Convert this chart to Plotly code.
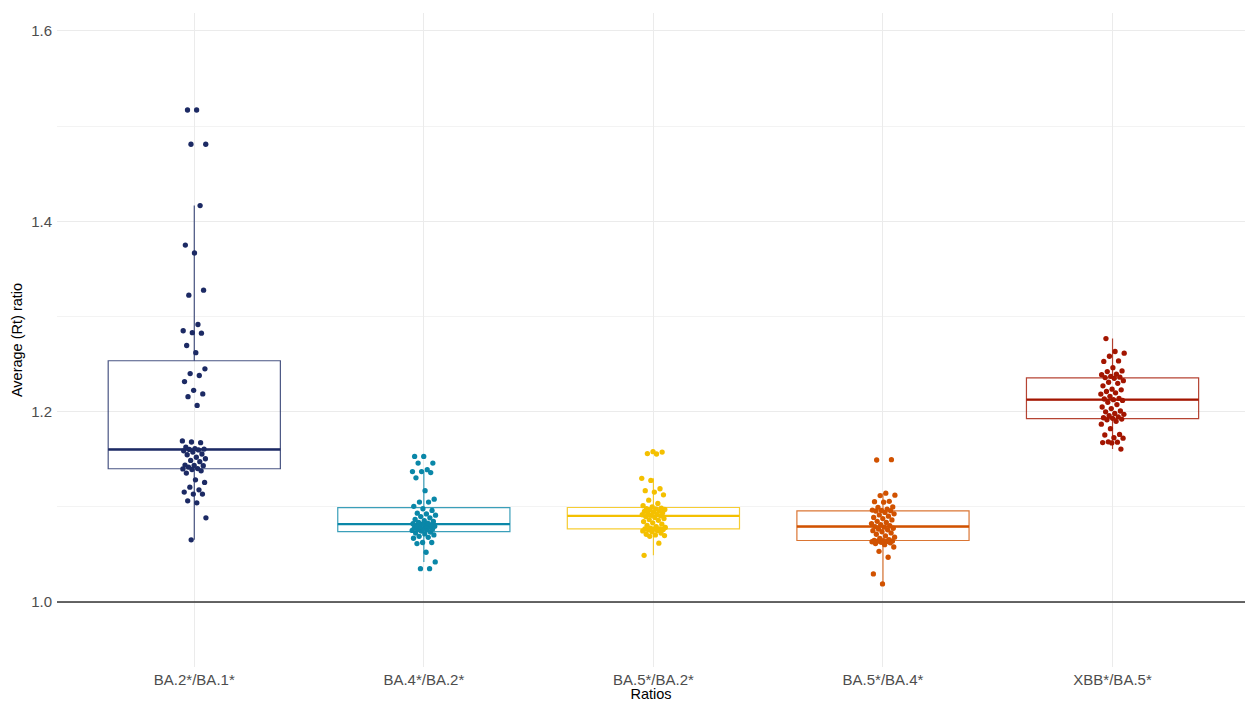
import numpy as np
import plotly.graph_objects as go

# Ratio categories shown on the x axis
categories = ["BA.2*/BA.1*", "BA.4*/BA.2*", "BA.5*/BA.2*", "BA.5*/BA.4*", "XBB*/BA.5*"]

# Average (Rt) ratio per sample, one list per comparison
ba2_ba1 = [1.0653, 1.0884, 1.1042, 1.1063, 1.1134, 1.1134, 1.1155, 1.1179, 1.1207, 1.1256,
           1.1284, 1.1355, 1.1378, 1.1392, 1.1398, 1.1402, 1.1418, 1.1432, 1.1435, 1.1439,
           1.1474, 1.1488, 1.1505, 1.1521, 1.1547, 1.1555, 1.1576, 1.1589, 1.1598, 1.1603,
           1.1607, 1.1612, 1.1628, 1.1674, 1.1681, 1.1692, 1.2066, 1.2158, 1.2186, 1.2224,
           1.2316, 1.2380, 1.2400, 1.2450, 1.2620, 1.2695, 1.2825, 1.2830, 1.2850, 1.2916,
           1.3224, 1.3277, 1.3667, 1.3750, 1.4165, 1.4810, 1.4810, 1.5170, 1.5170]

ba4_ba2 = [1.0350, 1.0350, 1.0421, 1.0523, 1.0614, 1.0625, 1.0625, 1.0670, 1.0680, 1.0690,
           1.0705, 1.0715, 1.0725, 1.0735, 1.0745, 1.0752, 1.0758, 1.0763, 1.0768, 1.0772,
           1.0778, 1.0785, 1.0790, 1.0796, 1.0802, 1.0807, 1.0813, 1.0818, 1.0823, 1.0828,
           1.0836, 1.0846, 1.0855, 1.0868, 1.0884, 1.0898, 1.0912, 1.0925, 1.0933, 1.0962,
           1.0980, 1.1005, 1.1050, 1.1050, 1.1080, 1.1170, 1.1305, 1.1360, 1.1370, 1.1370,
           1.1390, 1.1460, 1.1460, 1.1530, 1.1530]

ba5_ba2 = [1.0490, 1.0618, 1.0690, 1.0698, 1.0705, 1.0712, 1.0725, 1.0738, 1.0747, 1.0752,
           1.0758, 1.0762, 1.0765, 1.0767, 1.0769, 1.0775, 1.0783, 1.0791, 1.0806, 1.0818,
           1.0832, 1.0845, 1.0858, 1.0866, 1.0877, 1.0889, 1.0898, 1.0905, 1.0911, 1.0917,
           1.0924, 1.0932, 1.0938, 1.0945, 1.0953, 1.0960, 1.0967, 1.0972, 1.0978, 1.0982,
           1.0986, 1.1000, 1.1012, 1.1035, 1.1070, 1.1126, 1.1155, 1.1170, 1.1190, 1.1277,
           1.1300, 1.1555, 1.1560, 1.1575, 1.1580]

ba5_ba4 = [1.0190, 1.0295, 1.0470, 1.0532, 1.0578, 1.0602, 1.0614, 1.0622, 1.0628, 1.0633,
           1.0637, 1.0639, 1.0641, 1.0644, 1.0648, 1.0655, 1.0668, 1.0681, 1.0694, 1.0712,
           1.0726, 1.0738, 1.0749, 1.0758, 1.0766, 1.0775, 1.0786, 1.0793, 1.0801, 1.0812,
           1.0824, 1.0836, 1.0848, 1.0862, 1.0877, 1.0889, 1.0902, 1.0915, 1.0927, 1.0941,
           1.0956, 1.0960, 1.0962, 1.0966, 1.0975, 1.0994, 1.0998, 1.1049, 1.1054, 1.1058,
           1.1118, 1.1122, 1.1144, 1.1492, 1.1495]

xbb_ba5 = [1.1607, 1.1672, 1.1675, 1.1679, 1.1683, 1.1721, 1.1726, 1.1755, 1.1761, 1.1821,
           1.1868, 1.1898, 1.1915, 1.1922, 1.1930, 1.1936, 1.1945, 1.1958, 1.1972, 1.1981,
           1.1998, 1.2007, 1.2032, 1.2049, 1.2074, 1.2098, 1.2118, 1.2126, 1.2133, 1.2139,
           1.2161, 1.2185, 1.2198, 1.2212, 1.2229, 1.2236, 1.2271, 1.2298, 1.2309, 1.2326,
           1.2350, 1.2358, 1.2362, 1.2371, 1.2388, 1.2393, 1.2421, 1.2428, 1.2462, 1.2528,
           1.2533, 1.2582, 1.2615, 1.2632, 1.2768]

# Reference ratio (no change)
reference_ratio = 1.0

series = [ba2_ba1, ba4_ba2, ba5_ba2, ba5_ba4, xbb_ba5]
colors = ["#1c2a64", "#0a87a8", "#f4c000", "#d15200", "#a31500"]
box_width = 0.75
jitter_half = 0.052


def hex_rgba(h, a):
    h = h.lstrip("#")
    r, g, b = int(h[0:2], 16), int(h[2:4], 16), int(h[4:6], 16)
    return f"rgba({r},{g},{b},{a})"


def box_stats(vals):
    v = np.sort(np.asarray(vals, dtype=float))
    q1, med, q3 = np.percentile(v, [25, 50, 75])
    iqr = q3 - q1
    lo = v[v >= q1 - 1.5 * iqr].min()
    hi = v[v <= q3 + 1.5 * iqr].max()
    return q1, med, q3, lo, hi


fig = go.Figure()

golden = 0.6180339887
for i, (vals, col) in enumerate(zip(series, colors)):
    q1, med, q3, lo, hi = box_stats(vals)
    fig.add_trace(go.Box(
        x=[i], q1=[q1], median=[med], q3=[q3], lowerfence=[lo], upperfence=[hi],
        width=box_width, whiskerwidth=0, boxpoints=False,
        line=dict(color=hex_rgba(col, 0.8), width=1.2),
        fillcolor="rgba(0,0,0,0)", hoverinfo="skip", showlegend=False,
    ))
    # thicker median bar
    fig.add_trace(go.Scatter(
        x=[i - box_width / 2, i + box_width / 2], y=[med, med], mode="lines",
        line=dict(color=col, width=2.4), hoverinfo="skip", showlegend=False,
    ))
    # horizontally spread sample points (deterministic low-discrepancy spread)
    n = len(vals)
    frac = (np.arange(n) * golden + 0.37 * (i + 1)) % 1.0
    xs = i + jitter_half * (2 * frac - 1)
    fig.add_trace(go.Scatter(
        x=xs, y=vals, mode="markers",
        marker=dict(color=col, size=5.3, line=dict(width=0)),
        hoverinfo="skip", showlegend=False,
    ))

fig.add_hline(y=reference_ratio, line=dict(color="#333333", width=1.3), layer="above")

font_family = "Liberation Sans, Arial, sans-serif"
fig.update_layout(
    width=1245, height=702,
    margin=dict(l=57, r=0, t=13, b=35),
    paper_bgcolor="white", plot_bgcolor="white",
    font=dict(family=font_family, size=14, color="#4d4d4d"),
    xaxis=dict(
        range=[-0.598, 4.577], tickmode="array", tickvals=list(range(len(categories))),
        ticktext=categories, showgrid=True, gridcolor="#ebebeb", gridwidth=1,
        zeroline=False, showline=False, ticks="", ticklabelstandoff=2,
        tickfont=dict(size=15, color="#4d4d4d"),
        title=dict(text="Ratios", font=dict(size=14.5, color="#000000"), standoff=0),
        automargin=False,
    ),
    yaxis=dict(
        range=[0.9317, 1.6189], tickmode="array", tickvals=[1.0, 1.2, 1.4, 1.6],
        ticktext=["1.0", "1.2", "1.4", "1.6"], showgrid=True, gridcolor="#ebebeb",
        gridwidth=1, zeroline=False, showline=False, ticks="", ticklabelstandoff=4,
        tickfont=dict(size=15, color="#4d4d4d"),
        minor=dict(tickvals=[1.1, 1.3, 1.5], showgrid=True, gridcolor="#f3f3f3", gridwidth=0.8),
        title=dict(text="Average (Rt) ratio", font=dict(size=14.5, color="#000000"), standoff=5),
        automargin=False,
    ),
)

fig.write_html("out.html")
